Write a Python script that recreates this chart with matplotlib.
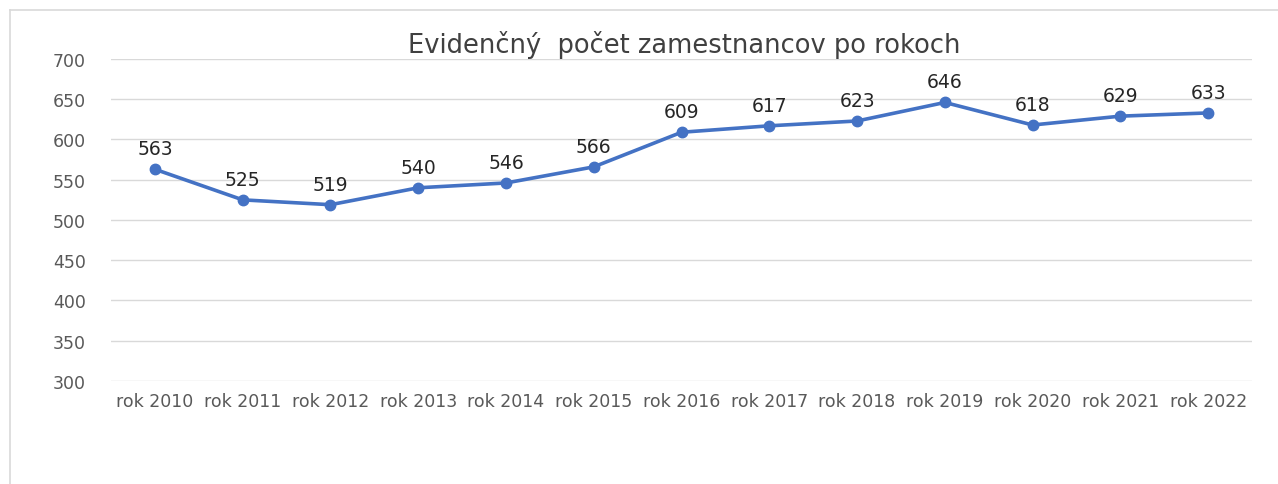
import matplotlib.pyplot as plt
from matplotlib.lines import Line2D

# data
roky = ["rok 2010", "rok 2011", "rok 2012", "rok 2013", "rok 2014", "rok 2015", "rok 2016",
        "rok 2017", "rok 2018", "rok 2019", "rok 2020", "rok 2021", "rok 2022"]
pocet = [563, 525, 519, 540, 546, 566, 609, 617, 623, 646, 618, 629, 633]
y_ticks = [300, 350, 400, 450, 500, 550, 600, 650, 700]

plt.rcParams['font.family'] = ['DejaVu Sans']

fig = plt.figure(figsize=(12.78, 4.85), dpi=100)
ax = fig.add_axes([0.0869, 0.2124, 0.8928, 0.6639])

x = list(range(len(roky)))
ax.plot(x, pocet, color='#4472C4', lw=2.6, marker='o', ms=7.5, zorder=3)
for xi, v in zip(x, pocet):
    ax.annotate(str(v), (xi, v), xytext=(0, 8), textcoords='offset points',
                ha='center', va='bottom', fontsize=13.5, color='#262626')

ax.set_xlim(-0.5, len(roky) - 0.5)
ax.set_ylim(300, 700)
ax.set_yticks(y_ticks)
ax.set_xticks(x)
ax.set_xticklabels(roky)
ax.tick_params(axis='both', length=0, labelsize=12.5, labelcolor='#595959')
ax.tick_params(axis='x', pad=8)
ax.tick_params(axis='y', pad=42)
for t in ax.get_yticklabels():
    t.set_horizontalalignment('left')
ax.grid(axis='y', color='#D9D9D9', lw=1)
ax.set_axisbelow(True)
for s in ax.spines.values():
    s.set_visible(False)

fig.text(0.5356, 0.907, "Evidenčný  počet zamestnancov po rokoch", ha='center', va='center',
         fontsize=18.5, color='#404040')

# chart frame (left and top edges)
fig.add_artist(Line2D([10 / 1278, 10 / 1278], [0, 1 - 11 / 485], transform=fig.transFigure,
                      color='#D9D9D9', lw=1.2))
fig.add_artist(Line2D([10 / 1278, 1], [1 - 11 / 485, 1 - 11 / 485], transform=fig.transFigure,
                      color='#D9D9D9', lw=1.2))

fig.savefig("out.png", dpi=100)
